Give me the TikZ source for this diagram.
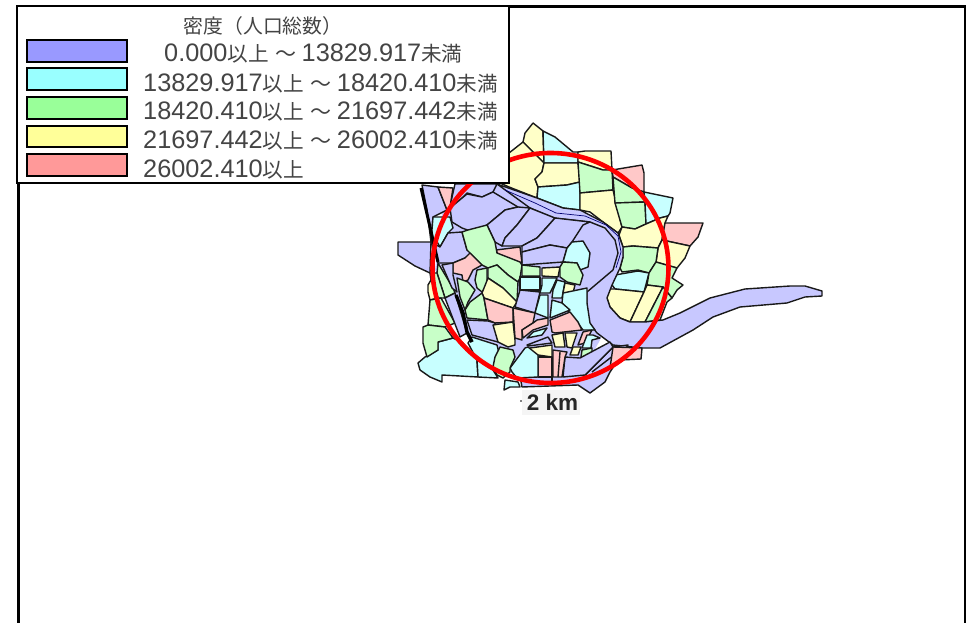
\documentclass[tikz,border=0pt]{standalone}
\usepackage{fontspec}
\setmainfont{Liberation Sans}
\newfontfamily\cjk{Noto Sans CJK JP}
\definecolor{cb}{HTML}{C8C8FF}
\definecolor{cc}{HTML}{C8FFFF}
\definecolor{cg}{HTML}{C8FFC8}
\definecolor{cy}{HTML}{FFFFC8}
\definecolor{cp}{HTML}{FFC8C8}
\definecolor{lb}{HTML}{9999FF}
\definecolor{lc}{HTML}{99FFFF}
\definecolor{lg}{HTML}{99FF99}
\definecolor{ly}{HTML}{FFFF99}
\definecolor{lp}{HTML}{FF9999}
\definecolor{legtext}{HTML}{444444}
\tikzset{
  cellshape/.style={draw=black!90,line width=1.4pt,line join=round},
  swatch/.style={draw=black,line width=1.2pt},
  legrow/.style={anchor=base west,inner sep=0pt,text=legtext},
}
\newcommand{\cell}[2]{\path[cellshape,fill=#1] plot coordinates {#2} -- cycle;}
\newcommand{\legnum}[1]{{\fontsize{25.3}{25.3}\selectfont #1}}
\newcommand{\legcjk}[1]{{\cjk\fontsize{20.6}{20.6}\selectfont #1}}
\newcommand{\legrange}[2]{\legnum{#1}\legcjk{以上}\hspace{7pt}{\cjk\fontsize{21}{21}\selectfont ～}\hspace{5pt}\legnum{#2}\legcjk{未満}}
\begin{document}
\begin{tikzpicture}[x=1pt,y=-1pt]
\useasboundingbox (0,0) rectangle (966,623);
\fill[white] (0,0) rectangle (966,623);
% frame
\draw[line width=3pt] (18,623) -- (18,6.5) -- (965,6.5) -- (965,623);
% base under the inner cells
\fill[cb] plot coordinates {(445,190) (500,185) (590,220) (622,240) (612,290) (600,340) (580,377) (520,378) (470,340) (435,270)} -- cycle;
% north-east
\cell{cy}{(523,142) (525,133) (533,123) (543,131) (544,163)}
\cell{cy}{(509,153) (523,142) (544,163) (542,172) (535,179) (538,187) (537,198) (509,187) (500,183)}
\cell{cc}{(543,131) (555,137) (573,152) (578,152) (578,163) (544,163)}
\cell{cy}{(544,163) (578,163) (580,182) (567,185) (538,187) (535,179) (542,172)}
\cell{cc}{(538,187) (567,185) (580,182) (580,210) (563,208) (537,198)}
\cell{cy}{(578,152) (585,151) (611,151) (612,170) (603,170) (578,162)}
\cell{cg}{(578,162) (603,170) (612,170) (613,190) (580,193)}
\cell{cy}{(580,193) (613,190) (622,227) (618,233) (603,222) (590,212) (580,210)}
\cell{cp}{(612,170) (642,165) (644,173) (644,192) (632,188) (613,177)}
\cell{cg}{(613,177) (632,188) (644,192) (645,202) (615,203)}
\cell{cg}{(615,203) (645,202) (646,224) (635,229) (622,227)}
\cell{cc}{(644,192) (673,198) (670,213) (668,216) (660,218) (646,224) (645,202)}
\cell{cy}{(622,227) (635,229) (646,224) (660,218) (668,216) (665,223) (662,240) (658,248) (633,246) (623,247) (619,235)}
\cell{cp}{(665,223) (703,223) (698,237) (690,246) (662,240)}
\cell{cy}{(662,240) (690,246) (685,258) (677,268) (656,262) (658,248)}
\cell{cg}{(623,247) (633,246) (658,248) (656,262) (649,273) (638,270) (622,272) (620,268) (623,257)}
\cell{cc}{(615,275) (638,271) (649,273) (644,292) (615,289) (612,285)}
\cell{cg}{(656,262) (677,268) (672,278) (683,285) (677,290) (672,298) (663,287) (647,285) (649,273)}
\cell{cy}{(608,289) (615,289) (644,292) (630,322) (620,318) (610,307) (607,298)}
\cell{cy}{(644,292) (647,285) (663,287) (645,322) (630,322)}
\cell{cg}{(663,287) (672,298) (667,302) (660,320) (645,322)}
% river
\cell{cb}{(497,184) (537,198) (563,208) (580,210) (603,222) (618,233) (623,247) (623,257) (620,268) (612,285) (607,298) (610,307) (620,318) (630,322) (645,322) (663,320) (680,313) (710,298) (745,289) (790,286) (805,286) (822,291) (822,296) (805,297) (787,303) (740,307) (713,317) (693,330) (660,348) (642,348) (613,345) (597,333) (587,320) (587,292) (613,270) (618,253) (615,240) (605,228) (590,222) (553,218) (530,208)}
% inner bend
\cell{cb}{(455,184) (497,184) (493,192) (482,197) (467,193) (453,207) (450,206)}
\cell{cb}{(467,194) (482,197) (493,192) (518,207) (505,210) (487,225) (473,232) (462,228) (452,222) (450,208)}
\cell{cb}{(518,207) (530,208) (517,225) (505,238) (502,246) (495,242) (487,225) (505,210)}
\cell{cb}{(530,208) (555,218) (547,227) (537,238) (522,246) (502,246) (505,238) (517,225)}
\cell{cb}{(555,218) (590,222) (583,225) (572,242) (567,248) (550,245) (522,252) (522,246) (537,238) (547,227)}
\cell{cb}{(522,252) (550,245) (567,248) (563,262) (522,265)}
\cell{cc}{(572,242) (583,241) (590,253) (588,267) (580,270) (577,263) (563,262) (567,248)}
\cell{cp}{(496,250) (520,247) (522,263) (498,255)}
% west
\cell{cb}{(422,185) (438,187) (447,210) (433,217) (431,242) (427,210)}
\cell{cp}{(438,187) (453,188) (450,207) (447,210)}
\cell{cc}{(433,217) (450,217) (453,228) (448,233) (440,247) (436,240) (431,242)}
\cell{cb}{(398,242) (431,242) (430,273) (415,266) (398,255)}
\cell{cb}{(440,247) (448,233) (462,232) (467,250) (472,253) (465,258) (453,263) (438,263) (431,242)}
\cell{cg}{(462,232) (468,230) (487,225) (495,242) (497,253) (520,262) (522,265) (520,278) (518,282) (508,275) (497,265) (488,268) (482,265) (470,253) (467,250)}
\cell{cp}{(465,258) (470,253) (482,265) (473,270) (468,280) (463,282) (462,275) (453,273) (453,263)}
\cell{cg}{(438,263) (453,288) (455,293) (445,298) (437,273)}
\cell{cb}{(442,265) (453,263) (453,275) (457,292) (452,288)}
\cell{cg}{(430,273) (437,273) (445,298) (438,298) (431,280)}
\cell{cy}{(428,285) (431,280) (438,298) (430,300) (428,292)}
\cell{cg}{(430,300) (441,298) (455,323) (445,327) (428,325)}
\cell{cb}{(445,298) (455,293) (467,333) (460,337)}
\cell{cg}{(457,278) (468,282) (475,290) (468,302) (465,310) (460,297)}
\cell{cg}{(477,270) (487,268) (487,285) (482,292) (477,288) (475,280)}
\cell{cg}{(488,268) (497,265) (508,275) (518,282) (517,302) (503,288) (488,278)}
\cell{cy}{(488,278) (503,288) (517,302) (513,308) (484,298) (482,293)}
\cell{cg}{(482,293) (484,298) (488,320) (467,318) (465,310) (470,302)}
\cell{cp}{(484,298) (513,308) (513,322) (495,323) (488,320)}
\cell{cb}{(467,320) (488,321) (495,323) (498,342) (472,335)}
\cell{cy}{(493,325) (513,322) (515,340) (515,345) (508,347) (498,342)}
% centre
\cell{cg}{(522,265) (540,267) (540,276) (522,276)}
\cell{cy}{(542,268) (560,267) (558,277) (542,276)}
\cell{cg}{(560,267) (563,262) (577,263) (583,275) (580,285) (567,282) (560,277)}
\cell{cc}{(520,277) (540,277) (540,290) (520,290)}
\cell{cc}{(542,278) (557,278) (553,287) (550,293) (540,293) (542,285)}
\cell{cc}{(557,280) (565,282) (562,298) (552,298) (553,290)}
\cell{cy}{(565,283) (575,285) (573,293) (563,293)}
\cell{cc}{(563,293) (587,288) (587,303) (590,323) (595,330) (583,330) (573,317) (562,303)}
\cell{cb}{(520,290) (540,292) (535,313) (515,307)}
\cell{cc}{(540,295) (548,295) (548,318) (535,313)}
\cell{cc}{(552,300) (562,303) (570,310) (550,318)}
\cell{cp}{(513,308) (535,313) (533,323) (522,330) (522,340) (515,338)}
\cell{cp}{(537,320) (548,318) (548,325) (533,330) (523,338) (522,330) (533,323)}
\cell{cp}{(550,320) (570,312) (578,322) (582,330) (555,333) (552,332)}
\cell{cc}{(527,338) (533,332) (547,328) (542,335)}
\cell{cb}{(527,345) (548,337) (552,343) (528,346)}
\cell{cy}{(552,335) (563,333) (565,347) (555,347)}
\cell{cy}{(565,333) (577,333) (572,348) (567,347)}
\cell{cp}{(578,345) (583,332) (592,330) (585,343)}
\cell{cc}{(587,335) (593,335) (600,338) (592,340) (591,348) (582,348)}
\cell{cy}{(530,348) (552,345) (552,357) (538,355) (530,353)}
\cell{cy}{(570,355) (573,347) (581,347) (578,355)}
\cell{cg}{(582,350) (592,348) (592,357) (581,357)}
% south
\cell{cb}{(520,376) (585,375) (613,347) (628,345) (610,372) (605,382) (590,393) (578,385) (522,387)}
\cell{cb}{(565,357) (580,358) (610,342) (613,347) (593,367) (585,375) (563,377)}
\cell{cp}{(538,357) (552,357) (552,377) (538,377)}
\cell{cp}{(553,350) (567,352) (565,357) (562,377) (553,377)}
\path[cellshape] (560,352) -- (558,377);
\path[cellshape] (552,377) -- (552,385);
\path[cellshape] (592,372) -- (618,352);
\cell{cc}{(510,368) (525,348) (528,347) (538,355) (538,377) (517,378) (512,372)}
\cell{cp}{(613,347) (642,348) (641,359) (620,360) (610,368)}
% south-west
\cell{cc}{(418,363) (425,357) (438,350) (438,342) (453,338) (463,343) (477,360) (478,377) (442,375) (442,382) (430,377) (420,370)}
\cell{cg}{(423,327) (428,325) (445,327) (453,338) (438,342) (438,350) (427,357) (423,343)}
\cell{cc}{(472,337) (497,345) (500,357) (495,360) (493,370) (498,378) (478,377) (477,360) (468,343)}
\cell{cg}{(500,347) (513,350) (515,357) (510,368) (510,372) (503,378) (497,375) (493,367) (495,357)}
\cell{cc}{(505,380) (518,382) (520,387) (510,387) (504,390)}
% rail and river inner lines
\draw[line width=3pt] (421,188) -- (433,240) -- (438,262);
\draw[line width=3.4pt] (456,295) -- (463,313) -- (467,332) -- (472,342);
\draw[line width=.7pt,draw=black!55!blue] (505,190) -- (535,203) -- (556,213) -- (585,216) -- (606,225) -- (618,236) -- (621,252) -- (616,268);
% scale label
\fill[black!4] (522,390) rectangle (580,415);
\fill (521,401) circle (.8);
\node[inner sep=0pt,font=\bfseries\fontsize{22.5}{22.5}\selectfont,text=black!85] (scale) at (552.5,402) {2 km};
% red circle
\draw[red,line width=4.6pt] (550.5,268) ellipse [x radius=118,y radius=115];
% legend
\draw[line width=1.6pt,fill=white] (17,6) rectangle (509,183);
\draw[swatch,fill=lb] (27,40) rectangle (127,62);
\draw[swatch,fill=lc] (27,68) rectangle (127,90);
\draw[swatch,fill=lg] (27,97) rectangle (127,119);
\draw[swatch,fill=ly] (27,126) rectangle (127,147);
\draw[swatch,fill=lp] (27,154) rectangle (127,176);
\node[inner sep=0pt,text=legtext,font=\cjk\fontsize{19.8}{19.8}\selectfont] (title) at (263,26) {密度（人口総数）};
\node[legrow] (r1) at (164,62) {\legrange{0.000}{13829.917}};
\node[legrow] (r2) at (143,92) {\legrange{13829.917}{18420.410}};
\node[legrow] (r3) at (143,120) {\legrange{18420.410}{21697.442}};
\node[legrow] (r4) at (143,148) {\legrange{21697.442}{26002.410}};
\node[legrow] (r5) at (143,177) {\legnum{26002.410}\legcjk{以上}};
\end{tikzpicture}
\end{document}
